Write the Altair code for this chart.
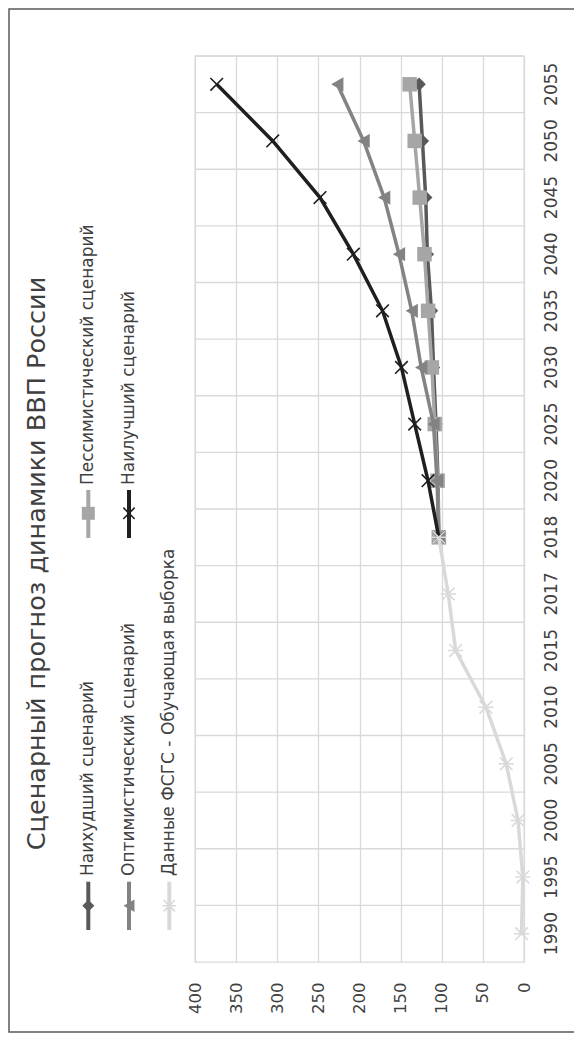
import altair as alt
import pandas as pd

# ---------------- data ----------------
years_all = ["1990", "1995", "2000", "2005", "2010", "2015", "2017", "2018",
             "2020", "2025", "2030", "2035", "2040", "2045", "2050", "2055"]
scen_years = ["2018", "2020", "2025", "2030", "2035", "2040", "2045", "2050", "2055"]
hist_years = ["1990", "1995", "2000", "2005", "2010", "2015", "2017", "2018"]

worst = [103.6, 104.5, 107.0, 110.0, 112.5, 117.5, 119.5, 123.5, 127.5]
pessim = [103.6, 105.0, 108.5, 112.0, 116.6, 121.0, 126.8, 132.9, 139.0]
optim = [103.6, 105.7, 110.0, 125.0, 136.5, 152.0, 170.0, 195.0, 227.0]
best = [103.6, 116.7, 132.9, 149.0, 172.0, 207.5, 248.0, 305.5, 373.6]
hist = [3.0, 1.4, 7.3, 21.6, 46.3, 83.1, 92.1, 103.6]

series_names = ["Наихудший сценарий", "Пессимистический сценарий",
                "Оптимистический сценарий", "Наилучший сценарий",
                "Данные ФСГС - Обучающая выборка"]
series_years = [scen_years, scen_years, scen_years, scen_years, hist_years]
series_values = [worst, pessim, optim, best, hist]

value_ticks = [0, 50, 100, 150, 200, 250, 300, 350, 400]
title_text = "Сценарный прогноз динамики ВВП России"

# ---------------- styles ----------------
colors = ["#595959", "#a6a6a6", "#838383", "#1f1f1f", "#d9d9d9"]
X_PATH = "M-1,-1L1,1M-1,1L1,-1"
AST_PATH = "M-1,-1L1,1M-1,1L1,-1M-1.2,0L1.2,0"
shapes = ["diamond", "square", "triangle-left", X_PATH, AST_PATH]
sizes = [180, 210, 200, 160, 160]
filled = [True, True, True, False, False]

FONT = "DejaVu Sans"
TXT = "#404040"
GRID = "#d9d9d9"
W, H = 329, 906

xscale = alt.Scale(domain=[0, 400], reverse=True, nice=False, zero=False)
xaxis = alt.Axis(values=value_ticks, orient="bottom", title=None, grid=True,
                 gridColor=GRID, gridWidth=1.3, domain=False, ticks=False,
                 tickSize=0, labelAngle=270, labelAlign="right",
                 labelBaseline="middle", labelPadding=20, labelFont=FONT,
                 labelFontSize=16.5, labelColor=TXT, labelFlush=False,
                 labelOverlap=False)
yscale = alt.Scale(type="band", domain=years_all[::-1], paddingInner=0,
                   paddingOuter=0)
yaxis = alt.Axis(orient="right", title=None, grid=False, domain=False,
                 ticks=False, tickSize=0, labelAngle=270, labelAlign="center",
                 labelBaseline="top", labelPadding=19, labelFont=FONT,
                 labelFontSize=17, labelColor=TXT, labelOverlap=False)

layers = []

# category grid lines (band boundaries)
grid_df = pd.DataFrame({"year": years_all})
layers.append(
    alt.Chart(grid_df).mark_rule(color=GRID, strokeWidth=1.3).encode(
        y=alt.Y("year:O", scale=yscale, axis=yaxis, bandPosition=0),
        x=alt.value(0), x2=alt.value(W),
    )
)

# series
for name, yrs, vals, col, shp, sz, fl in zip(series_names, series_years,
                                            series_values, colors, shapes,
                                            sizes, filled):
    df = pd.DataFrame({"year": yrs, "value": vals, "series": name})
    base = alt.Chart(df).encode(
        x=alt.X("value:Q", scale=xscale, axis=xaxis),
        y=alt.Y("year:O", scale=yscale, axis=yaxis, bandPosition=0.5),
    )
    layers.append(base.mark_line(color=col, strokeWidth=3.5))
    if fl:
        layers.append(base.mark_point(shape=shp, size=sz, filled=True,
                                      color=col, opacity=1))
    else:
        layers.append(base.mark_point(shape=shp, size=sz, filled=False,
                                      color=col, opacity=1, strokeWidth=1.6))

# legend (drawn rotated like the rest of the chart)
leg_x = [-106.7, -106.7, -66.0, -66.0, -25.7]
leg_row = ["low", "up", "low", "up", "low"]
row_pos = {"low": (825.7, 874.0, 849.7, 820.0), "up": (434.0, 482.0, 457.3, 429.0)}
for name, col, shp, sz, fl, lx, rw in zip(series_names, colors, shapes, sizes,
                                          filled, leg_x, leg_row):
    y1, y2, ym, yt = row_pos[rw]
    ldf = pd.DataFrame({"series": [name]})
    lb = alt.Chart(ldf)
    layers.append(lb.mark_rule(color=col, strokeWidth=4).encode(
        x=alt.value(lx), y=alt.value(y1), y2=alt.value(y2)))
    if fl:
        layers.append(lb.mark_point(shape=shp, size=sz * 0.8, filled=True,
                                    color=col, opacity=1).encode(
            x=alt.value(lx), y=alt.value(ym)))
    else:
        layers.append(lb.mark_point(shape=shp, size=sz * 0.8, filled=False,
                                    color=col, opacity=1, strokeWidth=1.6).encode(
            x=alt.value(lx), y=alt.value(ym)))
    layers.append(lb.mark_text(angle=270, align="left", baseline="middle",
                               font=FONT, fontSize=17, color=TXT).encode(
        x=alt.value(lx), y=alt.value(yt), text="series:N"))

# title
tdf = pd.DataFrame({"t": [title_text]})
layers.append(alt.Chart(tdf).mark_text(angle=270, align="center",
                                       baseline="middle", font=FONT,
                                       fontSize=25.5, color=TXT).encode(
    x=alt.value(-158), y=alt.value(507.5), text="t:N"))

# outer frame
layers.append(alt.Chart(tdf).mark_rect(fillOpacity=0, stroke="#595959",
                                       strokeWidth=1.5).encode(
    x=alt.value(-186), x2=alt.value(381), y=alt.value(-47), y2=alt.value(976)))

chart = alt.layer(*layers).properties(
    width=W, height=H,
    padding={"left": 187, "top": 48, "right": 50, "bottom": 78},
    autosize=alt.AutoSizeParams(type="none"),
).configure_view(stroke=GRID, strokeWidth=1.3)

chart.save("out.html", embed_options={"renderer": "svg", "actions": False})
